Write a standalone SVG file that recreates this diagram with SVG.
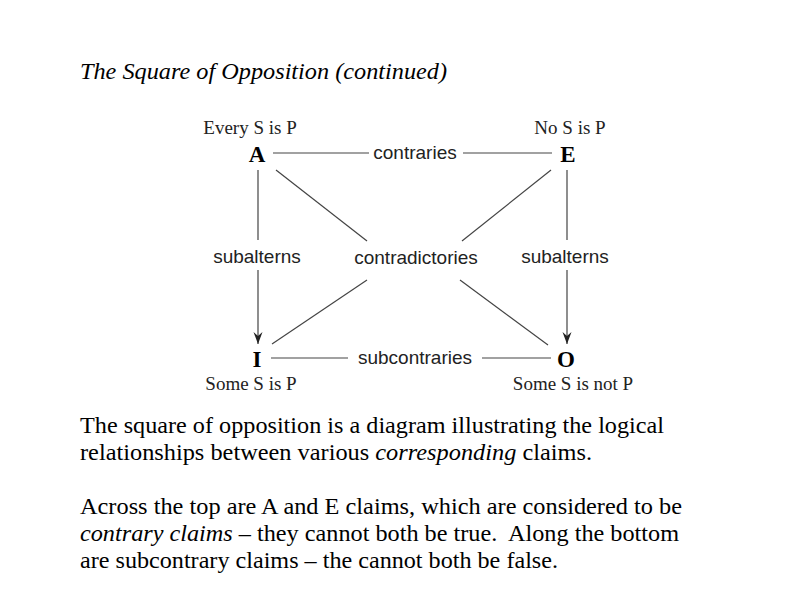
<svg xmlns="http://www.w3.org/2000/svg" width="800" height="600" viewBox="0 0 800 600">
<defs>
<style>
.serif{font-family:"Liberation Serif","Times New Roman",serif;fill:#000}
.sans{font-family:"Liberation Sans",Arial,sans-serif;font-size:19px;fill:#222}
.cap{font-size:19px;fill:#222}
.big{font-size:23px;font-weight:bold}
.body{font-size:23px}
.ln{stroke:#444;stroke-width:1.2;fill:none}
</style>
<marker id="arr" markerWidth="14" markerHeight="12" refX="12" refY="5" orient="auto" markerUnits="userSpaceOnUse">
<path d="M0,0.5 L12,5 L0,9.5 L4,5 Z" fill="#222"/>
</marker>
</defs>
<rect width="800" height="600" fill="#fff"/>
<text class="serif" x="80" y="79" font-size="23" font-style="italic" textLength="367" lengthAdjust="spacingAndGlyphs">The Square of Opposition (continued)</text>
<g id="connectors">
<line class="ln" x1="273" y1="153" x2="369" y2="153"/>
<line class="ln" x1="463" y1="153" x2="552" y2="153"/>
<line class="ln" x1="271" y1="358" x2="348" y2="358"/>
<line class="ln" x1="482" y1="358" x2="551" y2="358"/>
<line class="ln" x1="258" y1="170" x2="258" y2="240"/>
<line class="ln" x1="258" y1="270" x2="258" y2="344" marker-end="url(#arr)"/>
<line class="ln" x1="567" y1="170" x2="567" y2="240"/>
<line class="ln" x1="567" y1="270" x2="567" y2="344" marker-end="url(#arr)"/>
<line class="ln" x1="276" y1="170" x2="367" y2="241"/>
<line class="ln" x1="551" y1="170" x2="462" y2="241"/>
<line class="ln" x1="272" y1="344" x2="367" y2="280"/>
<line class="ln" x1="548" y1="345" x2="460" y2="280"/>
<text class="sans" x="415" y="159" text-anchor="middle">contraries</text>
<text class="sans" x="415" y="364" text-anchor="middle">subcontraries</text>
<text class="sans" x="257" y="263" text-anchor="middle">subalterns</text>
<text class="sans" x="565" y="263" text-anchor="middle">subalterns</text>
<text class="sans" x="416" y="264" text-anchor="middle">contradictories</text>
</g>
<g id="node-A">
<text class="serif cap" x="250" y="134" text-anchor="middle">Every S is P</text>
<text class="serif big" x="257" y="162" text-anchor="middle">A</text>
</g>
<g id="node-E">
<text class="serif cap" x="570" y="134" text-anchor="middle">No S is P</text>
<text class="serif big" x="568" y="162" text-anchor="middle">E</text>
</g>
<g id="node-I">
<text class="serif big" x="257" y="367" text-anchor="middle">I</text>
<text class="serif cap" x="251" y="390" text-anchor="middle">Some S is P</text>
</g>
<g id="node-O">
<text class="serif big" x="566" y="367" text-anchor="middle">O</text>
<text class="serif cap" x="573" y="390" text-anchor="middle">Some S is not P</text>
</g>
<g class="serif body">
<text x="80" y="433" textLength="584" lengthAdjust="spacingAndGlyphs">The square of opposition is a diagram illustrating the logical</text>
<text x="80" y="460" textLength="512" lengthAdjust="spacingAndGlyphs">relationships between various <tspan font-style="italic">corresponding</tspan> claims.</text>
<text x="80" y="514" textLength="602" lengthAdjust="spacingAndGlyphs">Across the top are A and E claims, which are considered to be</text>
<text x="80" y="541" textLength="599" lengthAdjust="spacingAndGlyphs" xml:space="preserve"><tspan font-style="italic">contrary claims</tspan> – they cannot both be true.  Along the bottom</text>
<text x="80" y="568" textLength="478" lengthAdjust="spacingAndGlyphs">are subcontrary claims – the cannot both be false.</text>
</g>
</svg>
